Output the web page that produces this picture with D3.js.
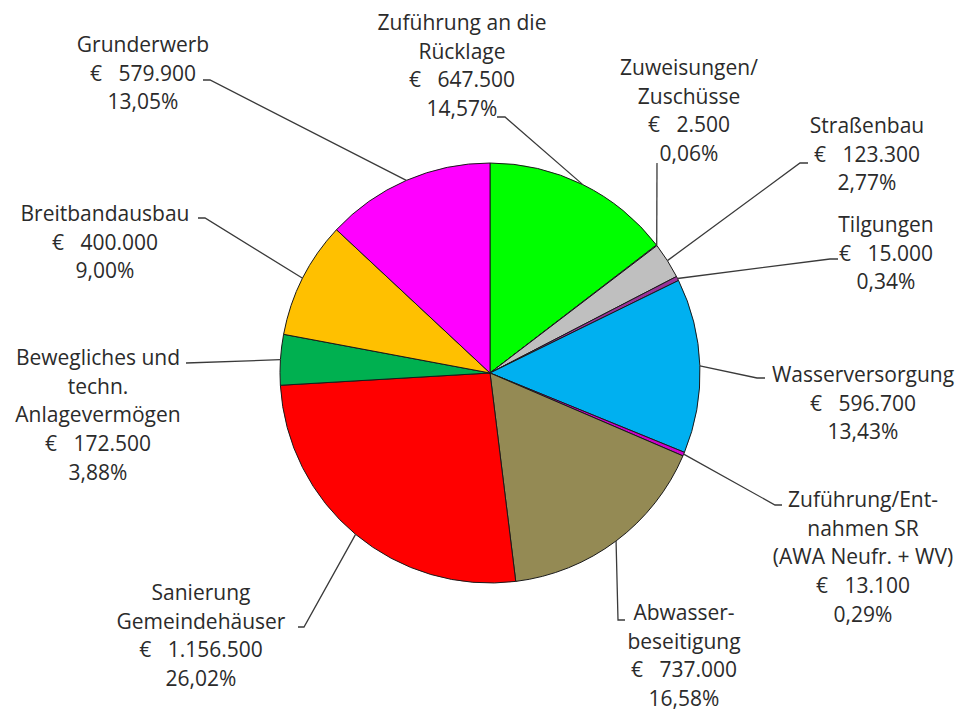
<!DOCTYPE html>
<html>
<head>
<meta charset="utf-8">
<script src="https://cdn.jsdelivr.net/npm/d3@7"></script>
<style>
  body { margin: 0; background: #fff; }
  svg text { font-family: "Open Sans", sans-serif; fill: #2b2b2b; white-space: pre; }
</style>
</head>
<body>
<div id="chart"></div>
<script>
// data, clockwise from 12 o'clock
var categories = ["Zuführung an die Rücklage", "Zuweisungen/ Zuschüsse", "Straßenbau", "Tilgungen",
  "Wasserversorgung", "Zuführung/Entnahmen SR (AWA Neufr. + WV)", "Abwasserbeseitigung",
  "Sanierung Gemeindehäuser", "Bewegliches und techn. Anlagevermögen", "Breitbandausbau", "Grunderwerb"];
var values = [647500, 2500, 123300, 15000, 596700, 13100, 737000, 1156500, 172500, 400000, 579900];
var amountLabels = ["€   647.500", "€   2.500", "€   123.300", "€   15.000", "€   596.700", "€   13.100",
  "€   737.000", "€   1.156.500", "€   172.500", "€   400.000", "€   579.900"];
var percentLabels = ["14,57%", "0,06%", "2,77%", "0,34%", "13,43%", "0,29%", "16,58%", "26,02%", "3,88%", "9,00%", "13,05%"];
var nameLines = [["Zuführung an die", "Rücklage"], ["Zuweisungen/", "Zuschüsse"], ["Straßenbau"], ["Tilgungen"],
  ["Wasserversorgung"], ["Zuführung/Ent-", "nahmen SR", "(AWA Neufr. + WV)"], ["Abwasser-", "beseitigung"],
  ["Sanierung", "Gemeindehäuser"], ["Bewegliches und", "techn.", "Anlagevermögen"], ["Breitbandausbau"], ["Grunderwerb"]];
var colors = ["#00ff00", "#f2f2f2", "#bfbfbf", "#993399", "#00b0f0", "#cc00cc", "#948a54", "#ff0000", "#00b050", "#ffc000", "#ff00ff"];

// label layout: text centre x, first baseline y, elbow point, end of short tick
var labelPos = [
  {x: 462, y: 30, elbow: [505, 117], tick: [497, 117]},
  {x: 689, y: 75, elbow: [657, 163], tick: null},
  {x: 867, y: 133, elbow: [800, 163], tick: [808, 163]},
  {x: 886, y: 232, elbow: [830, 259], tick: [838, 259]},
  {x: 863, y: 382, elbow: [757, 378], tick: [765, 378]},
  {x: 863, y: 507, elbow: [775, 505], tick: [782, 505]},
  {x: 684, y: 620, elbow: [618, 620], tick: [625, 620]},
  {x: 201, y: 600, elbow: [304, 627], tick: [298, 627]},
  {x: 98, y: 365, elbow: [186, 363], tick: null},
  {x: 105, y: 221, elbow: [205, 218], tick: [198, 218]},
  {x: 143, y: 52, elbow: [210, 80], tick: [203, 80]}
];

var width = 962, height = 711;
var cx = 490, cy = 373, radius = 210, lineStep = 28.7;

var svg = d3.select("#chart").append("svg")
  .attr("width", width)
  .attr("height", height);

var data = values.map(function(v, i) { return {i: i, value: v}; });

var pie = d3.pie().sort(null).value(function(d) { return d.value; });
var arc = d3.arc().innerRadius(0).outerRadius(radius);
var arcs = pie(data);

var g = svg.append("g").attr("transform", "translate(" + cx + "," + cy + ")");

g.selectAll("path.slice")
  .data(arcs)
  .enter().append("path")
  .attr("class", "slice")
  .attr("d", arc)
  .attr("fill", function(d) { return colors[d.data.i]; })
  .attr("stroke", "#1a1a1a")
  .attr("stroke-width", 1);

// leader lines
svg.selectAll("polyline.leader")
  .data(arcs)
  .enter().append("polyline")
  .attr("class", "leader")
  .attr("fill", "none")
  .attr("stroke", "#3a3a3a")
  .attr("stroke-width", 1.3)
  .attr("points", function(d) {
    var a = (d.startAngle + d.endAngle) / 2;
    var p = [cx + radius * Math.sin(a), cy - radius * Math.cos(a)];
    var lp = labelPos[d.data.i];
    var pts = [p, lp.elbow];
    if (lp.tick) pts.push(lp.tick);
    return pts.map(function(q) { return q.join(","); }).join(" ");
  });

// labels
var labels = svg.selectAll("text.lbl")
  .data(data)
  .enter().append("text")
  .attr("class", "lbl")
  .attr("text-anchor", "middle")
  .attr("font-size", "21px");

labels.each(function(d) {
  var lines = nameLines[d.i].concat([amountLabels[d.i], percentLabels[d.i]]);
  var lp = labelPos[d.i];
  d3.select(this).selectAll("tspan")
    .data(lines)
    .enter().append("tspan")
    .attr("x", lp.x)
    .attr("y", function(t, k) { return lp.y + k * lineStep; })
    .text(function(t) { return t; });
});
</script>
</body>
</html>
